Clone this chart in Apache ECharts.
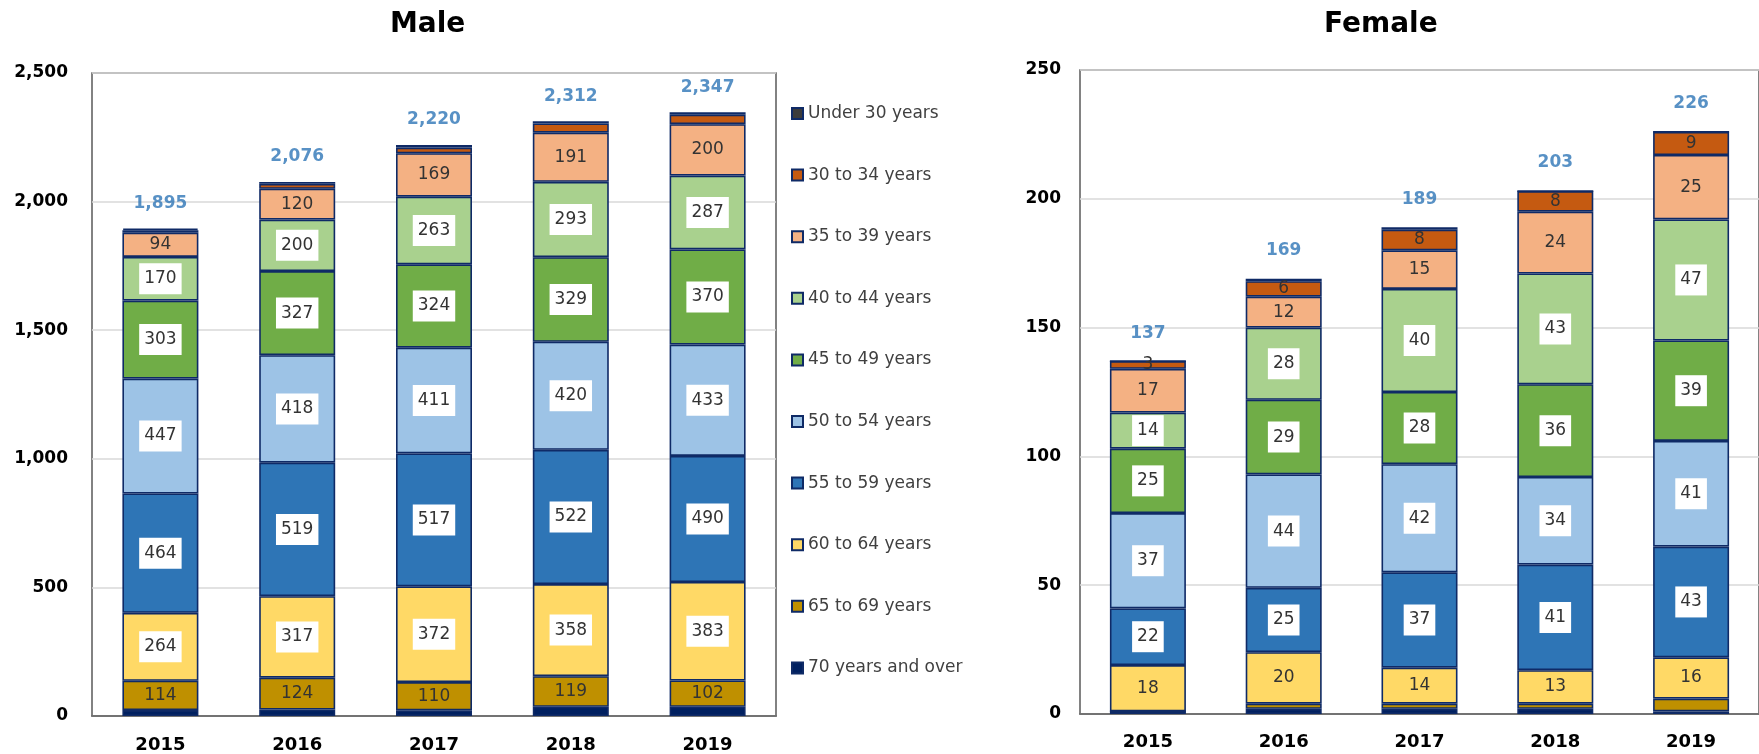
<!DOCTYPE html>
<html>
<head>
<meta charset="utf-8">
<script src="https://cdn.jsdelivr.net/npm/echarts@6/dist/echarts.min.js"></script>
<style>
  html, body { margin: 0; padding: 0; background: #fff; }
  #chart { width: 1759px; height: 754px; }
</style>
</head>
<body>
<div id="chart"></div>
<script>
const years = ['2015', '2016', '2017', '2018', '2019']

// stacking order, bottom to top
const ageGroups = ['70 years and over', '65 to 69 years', '60 to 64 years', '55 to 59 years',
  '50 to 54 years', '45 to 49 years', '40 to 44 years', '35 to 39 years', '30 to 34 years', 'Under 30 years']
const groupColors = ['#002060', '#bf9000', '#ffd966', '#2e75b6', '#9dc3e6',
  '#70ad47', '#a9d18e', '#f4b183', '#c55a11', '#3b3b3b']

const maleOver70 = [23, 25, 22, 36, 36]
const male65to69 = [114, 124, 110, 119, 102]
const male60to64 = [264, 317, 372, 358, 383]
const male55to59 = [464, 519, 517, 522, 490]
const male50to54 = [447, 418, 411, 420, 433]
const male45to49 = [303, 327, 324, 329, 370]
const male40to44 = [170, 200, 263, 293, 287]
const male35to39 = [94, 120, 169, 191, 200]
const male30to34 = [10, 19, 22, 36, 37]
const maleUnder30 = [6, 7, 10, 8, 9]
const maleTotals = [1895, 2076, 2220, 2312, 2347]

const femaleOver70 = [1, 2, 2, 2, 1]
const female65to69 = [0, 2, 2, 2, 5]
const female60to64 = [18, 20, 14, 13, 16]
const female55to59 = [22, 25, 37, 41, 43]
const female50to54 = [37, 44, 42, 34, 41]
const female45to49 = [25, 29, 28, 36, 39]
const female40to44 = [14, 28, 40, 43, 47]
const female35to39 = [17, 12, 15, 24, 25]
const female30to34 = [3, 6, 8, 8, 9]
const femaleUnder30 = [0, 1, 1, 0, 0]
const femaleTotals = [137, 169, 189, 203, 226]

const maleData = [maleOver70, male65to69, male60to64, male55to59, male50to54,
  male45to49, male40to44, male35to39, male30to34, maleUnder30]
const femaleData = [femaleOver70, female65to69, female60to64, female55to59, female50to54,
  female45to49, female40to44, female35to39, female30to34, femaleUnder30]

// label style per group: 'box' = white box, 'plain' = text only, null = none
const maleLabels = [null, 'plain', 'box', 'box', 'box', 'box', 'box', 'plain', null, null]
const femaleLabels = [null, null, 'plain', 'box', 'box', 'box', 'box', 'plain', 'plain', null]

const FONT = 'DejaVu Sans'
const fmt = (v) => Number(v).toLocaleString('en-US')

const segLabel = (mode) => {
  if (!mode) return { show: false }
  const lbl = {
    show: true
    , position: 'inside'
    , color: '#333'
    , fontFamily: FONT
    , fontSize: 17
  }
  if (mode === 'box') {
    lbl.backgroundColor = '#fff'
    lbl.padding = [7, 5]
  }
  return lbl
}

const buildSeries = (data, labels, idx) => data.map((vals, i) => ({
  name: ageGroups[i]
  , type: 'bar'
  , stack: 'total' + idx
  , xAxisIndex: idx
  , yAxisIndex: idx
  , barWidth: 76
  , data: vals
  , itemStyle: { color: groupColors[i], borderColor: '#0f2a66', borderWidth: 1.6 }
  , label: segLabel(labels[i])
  , emphasis: { disabled: true }
}))

const totalSeries = (totals, idx, dist) => ({
  type: 'scatter'
  , xAxisIndex: idx
  , yAxisIndex: idx
  , symbolSize: 1
  , data: totals
  , itemStyle: { color: 'rgba(0,0,0,0)' }
  , label: {
    show: true
    , position: 'top'
    , distance: dist
    , formatter: (p) => fmt(p.value)
    , color: '#2e75b6'
    , fontWeight: 'bold'
    , fontFamily: FONT
    , fontSize: 17
  }
  , z: 10
})

const xAxisFor = (idx, margin) => ({
  type: 'category'
  , gridIndex: idx
  , data: years
  , axisTick: { show: false }
  , axisLine: { lineStyle: { color: '#595959', width: 1.5 } }
  , axisLabel: { color: '#000', fontWeight: 'bold', fontFamily: FONT, fontSize: 18, margin: margin }
})

const yAxisFor = (idx, max, interval, margin) => ({
  type: 'value'
  , gridIndex: idx
  , min: 0
  , max: max
  , interval: interval
  , axisLine: { show: false }
  , axisTick: { show: false }
  , splitLine: { lineStyle: { color: '#d9d9d9', width: 1.5 } }
  , axisLabel: { color: '#000', fontWeight: 'bold', fontFamily: FONT, fontSize: 17, margin: margin, formatter: fmt }
})

const chart = echarts.init(document.getElementById('chart'))

chart.setOption({
  animation: false
  , title: [
    { text: 'Male', left: 390, top: 11, padding: 0,
      textStyle: { fontFamily: FONT, fontSize: 28, fontWeight: 'bold', color: '#000' } }
    , { text: 'Female', left: 1324, top: 11, padding: 0,
      textStyle: { fontFamily: FONT, fontSize: 28, fontWeight: 'bold', color: '#000' } }
  ]
  , legend: {
    orient: 'vertical'
    , left: 791
    , top: 103.5
    , padding: 0
    , itemWidth: 11
    , itemHeight: 11
    , itemGap: 41.6
    , icon: 'rect'
    , data: ageGroups.slice().reverse()
    , textStyle: { fontFamily: FONT, fontSize: 17, lineHeight: 20, color: '#404040' }
  }
  , grid: [
    { left: 92, top: 73, width: 684, height: 647, show: true, borderColor: '#595959', borderWidth: 1.5 }
    , { left: 1080, top: 70, width: 690, height: 644, show: true, borderColor: '#595959', borderWidth: 1.5 }
  ]
  , xAxis: [xAxisFor(0, 20), xAxisFor(1, 19)]
  , yAxis: [yAxisFor(0, 2500, 500, 24), yAxisFor(1, 250, 50, 19)]
  , series: [
    ...buildSeries(maleData, maleLabels, 0)
    , ...buildSeries(femaleData, femaleLabels, 1)
    , totalSeries(maleTotals, 0, 16)
    , totalSeries(femaleTotals, 1, 19)
  ]
})
</script>
</body>
</html>
